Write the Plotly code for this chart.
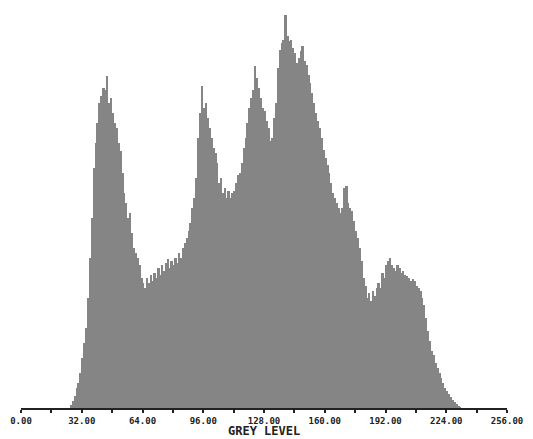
import plotly.graph_objects as go

grey_levels = list(range(256))
counts = [
    0, 0, 0, 0, 0, 0, 0, 0, 0, 0, 0, 0, 0, 0, 0, 0,
    0, 0, 0, 0, 0, 0, 0, 0, 0, 0, 3, 7, 12, 20, 25, 35,
    50, 65, 80, 110, 150, 190, 240, 265, 285, 305, 312, 320, 318, 332, 305, 310,
    295, 285, 280, 265, 257, 235, 215, 205, 190, 195, 175, 160, 155, 150, 143, 130,
    125, 120, 130, 125, 133, 127, 135, 130, 140, 133, 143, 137, 145, 149, 140, 147,
    143, 150, 145, 155, 150, 160, 165, 170, 177, 185, 200, 210, 230, 270, 295, 322,
    300, 305, 290, 280, 270, 260, 255, 245, 225, 230, 215, 220, 210, 217, 210, 215,
    217, 225, 233, 235, 245, 260, 270, 285, 300, 310, 318, 342, 330, 320, 310, 300,
    297, 287, 280, 267, 270, 290, 305, 340, 358, 365, 368, 393, 372, 367, 368, 360,
    355, 345, 350, 357, 362, 347, 343, 333, 325, 315, 305, 295, 287, 280, 270, 258,
    250, 243, 235, 225, 215, 210, 205, 200, 195, 200, 220, 222, 205, 200, 197, 187,
    177, 170, 160, 147, 130, 122, 110, 115, 107, 117, 112, 120, 125, 120, 135, 130,
    143, 147, 150, 143, 140, 137, 143, 140, 135, 137, 133, 132, 130, 127, 129, 127,
    122, 120, 117, 110, 103, 90, 77, 67, 57, 53, 45, 40, 35, 30, 25, 20,
    17, 14, 11, 8, 6, 4, 2, 1, 0, 0, 0, 0, 0, 0, 0, 0,
    0, 0, 0, 0, 0, 0, 0, 0, 0, 0, 0, 0, 0, 0, 0, 0,
]
tick_values = [0, 32, 64, 96, 128, 160, 192, 224, 256]
tick_labels = ["0.00", "32.00", "64.00", "96.00", "128.00", "160.00", "192.00", "224.00", "256.00"]
x_title = "GREY LEVEL"

fig = go.Figure(go.Bar(
    x=grey_levels, y=counts, width=1, offset=0,
    marker=dict(color="#858585", line=dict(width=0)),
))

fig.update_layout(
    width=533, height=439,
    margin=dict(l=19, r=21, t=10, b=31),
    paper_bgcolor="white", plot_bgcolor="white",
    bargap=0, showlegend=False,
    font=dict(family="DejaVu Sans Mono", color="#222"),
    annotations=[dict(
        text=x_title, xref="paper", yref="paper", x=0.5, y=-0.057,
        yanchor="middle", showarrow=False,
        font=dict(size=12, family="DejaVu Sans Mono", weight="bold", color="#222"),
    )],
)
fig.update_xaxes(
    range=[0, 256], showgrid=False, zeroline=False,
    showline=True, linecolor="#222", linewidth=1.5,
    tickmode="array", tickvals=tick_values, ticktext=tick_labels,
    ticks="outside", ticklen=3, tickcolor="#222", tickwidth=1.5,
    tickfont=dict(size=9, family="DejaVu Sans Mono", weight="bold", color="#222"),
    minor=dict(dtick=16, ticks="outside", ticklen=3, tickcolor="#222", tickwidth=1.5),
)
fig.update_yaxes(range=[0, 398], visible=False, showgrid=False)

fig.write_html("out.html")
